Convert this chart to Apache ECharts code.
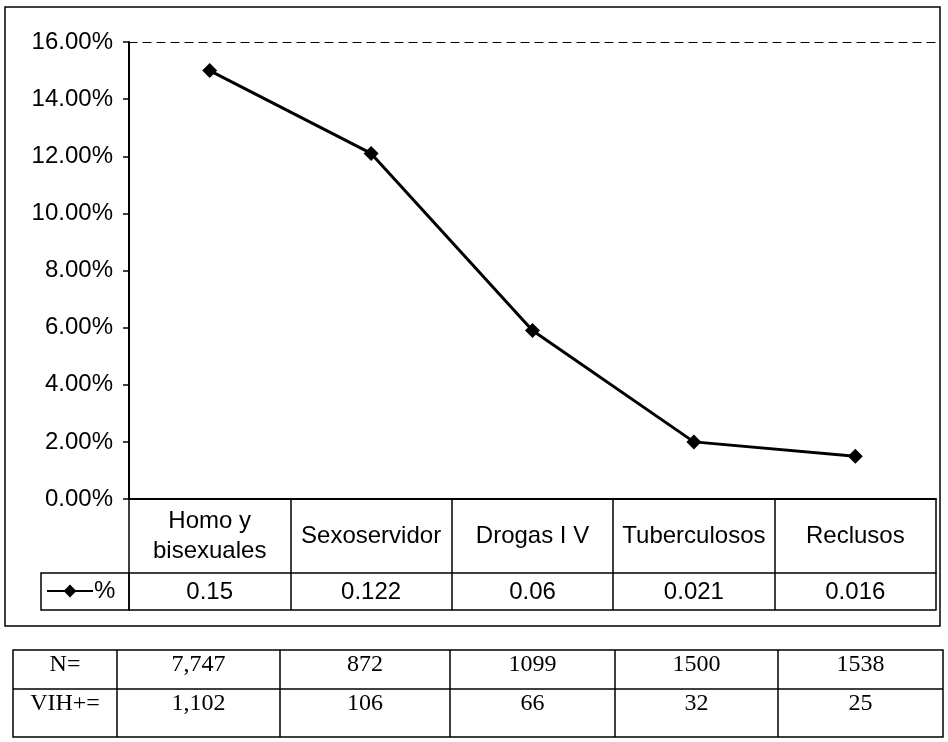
<!DOCTYPE html>
<html>
<head>
<meta charset="utf-8">
<script src="https://cdn.jsdelivr.net/npm/echarts@6/dist/echarts.min.js"></script>
<style>
html,body{margin:0;padding:0;background:#fff;}
#chart{width:948px;height:742px;}
</style>
</head>
<body>
<div id="chart"></div>
<script>
// ---- data ----
const categories = ['Homo y\nbisexuales', 'Sexoservidor', 'Drogas I V', 'Tuberculosos', 'Reclusos'];
const seriesName = '%';
const pctValues = [0.150, 0.121, 0.059, 0.020, 0.015];   // plotted points
const tableLabels = ['0.15', '0.122', '0.06', '0.021', '0.016']; // data-table row
const rowHeads = ['N=', 'VIH+='];
const nRow = ['7,747', '872', '1099', '1500', '1538'];
const vihRow = ['1,102', '106', '66', '32', '25'];

// ---- chart ----
const chart = echarts.init(document.getElementById('chart'), null, {renderer: 'canvas'});
const SANS = '"Liberation Sans", Arial, sans-serif';
const SERIF = '"Liberation Serif", "Times New Roman", serif';

const gridL = 129, gridR = 12, gridT = 42, gridB = 243;

// lower table geometry
const colEdges = [13, 117, 280, 450, 615, 778, 943];
const rowEdges = [650, 689, 737];
const tableRows = [[rowHeads[0]].concat(nRow), [rowHeads[1]].concat(vihRow)];
const textY = [665, 704];

const graphics = [];
// outer border of chart
graphics.push({type: 'rect', shape: {x: 5, y: 7, width: 935, height: 619},
  style: {fill: 'none', stroke: '#000', lineWidth: 1.5}, silent: true});
// legend cell box
graphics.push({type: 'rect', shape: {x: 41, y: 573, width: gridL - 41, height: 37},
  style: {fill: 'none', stroke: '#000', lineWidth: 1.5}, silent: true});
// lower table
graphics.push({type: 'rect', shape: {x: colEdges[0], y: rowEdges[0], width: colEdges[6] - colEdges[0], height: rowEdges[2] - rowEdges[0]},
  style: {fill: 'none', stroke: '#000', lineWidth: 1.5}, silent: true});
graphics.push({type: 'line', shape: {x1: colEdges[0], y1: rowEdges[1], x2: colEdges[6], y2: rowEdges[1]},
  style: {stroke: '#000', lineWidth: 1.5}, silent: true});
for (let i = 1; i < colEdges.length - 1; i++) {
  graphics.push({type: 'line', shape: {x1: colEdges[i], y1: rowEdges[0], x2: colEdges[i], y2: rowEdges[2]},
    style: {stroke: '#000', lineWidth: 1.5}, silent: true});
}
tableRows.forEach((row, r) => {
  row.forEach((txt, c) => {
    graphics.push({type: 'text', x: (colEdges[c] + colEdges[c + 1]) / 2, y: textY[r],
      style: {text: txt, font: '24px ' + SERIF, fill: '#000', align: 'center', verticalAlign: 'middle'}, silent: true});
  });
});

const option = {
  animation: false,
  backgroundColor: '#fff',
  grid: {left: gridL, right: gridR, top: gridT, bottom: gridB, containLabel: false},
  legend: {
    data: [seriesName], left: 46, top: 579, itemWidth: 46, itemHeight: 16, itemGap: 4, padding: 0,
    textStyle: {fontFamily: SANS, fontSize: 24, color: '#000', padding: [0, 0, 0, -4]}
  },
  xAxis: [
    {
      type: 'category', data: categories, position: 'bottom', boundaryGap: true,
      axisLine: {show: true, lineStyle: {color: '#000', width: 2}},
      axisTick: {show: true, length: 111, alignWithLabel: false, lineStyle: {color: '#000', width: 1.5}},
      axisLabel: {show: true, interval: 0, margin: 37, verticalAlign: 'middle', fontFamily: SANS, fontSize: 24,
        lineHeight: 30, color: '#000'},
      splitLine: {show: false}
    },
    {
      type: 'category', data: tableLabels, position: 'bottom', offset: 74, boundaryGap: true,
      axisLine: {show: true, lineStyle: {color: '#000', width: 1.5}},
      axisTick: {show: false},
      axisLabel: {show: true, interval: 0, margin: 19, verticalAlign: 'middle', fontFamily: SANS, fontSize: 24, color: '#000'},
      splitLine: {show: false}
    },
    {
      type: 'category', data: tableLabels, position: 'bottom', offset: 111, boundaryGap: true,
      axisLine: {show: true, lineStyle: {color: '#000', width: 1.5}},
      axisTick: {show: false}, axisLabel: {show: false}, splitLine: {show: false}
    },
    {
      type: 'category', data: categories, position: 'top', boundaryGap: true,
      axisLine: {show: true, lineStyle: {color: '#000', width: 1.2, type: [8, 6]}},
      axisTick: {show: false}, axisLabel: {show: false}, splitLine: {show: false}
    }
  ],
  yAxis: {
    type: 'value', min: 0, max: 0.16, interval: 0.02,
    axisLine: {show: true, lineStyle: {color: '#000', width: 2}},
    axisTick: {show: true, length: 6, lineStyle: {color: '#000', width: 1.5}},
    axisLabel: {margin: 16, fontFamily: SANS, fontSize: 24, color: '#000',
      formatter: v => (v * 100).toFixed(2) + '%'},
    splitLine: {show: false}
  },
  series: [{
    name: seriesName, type: 'line', data: pctValues, xAxisIndex: 0,
    symbol: 'diamond', symbolSize: 15,
    lineStyle: {color: '#000', width: 3},
    itemStyle: {color: '#000'}
  }],
  graphic: graphics
};
chart.setOption(option);
</script>
</body>
</html>
